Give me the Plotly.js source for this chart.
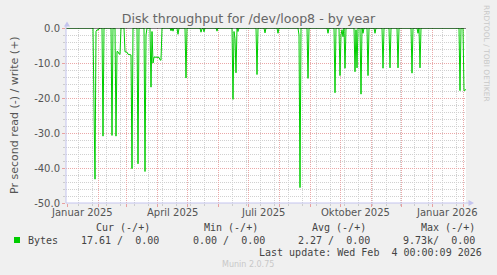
<!DOCTYPE html>
<html>
<head>
<meta charset="utf-8">
<script src="https://cdn.plot.ly/plotly-3.0.1.min.js"></script>
<style>
html,body{margin:0;padding:0;background:#f0f0f0;}
#chart{width:497px;height:275px;}
</style>
</head>
<body>
<div id="chart"></div>
<script>
// ---- data (read series, shown as negative) ----
const readDates = [
"2024-12-31","2025-01-27","2025-01-28","2025-01-29","2025-01-30","2025-01-31","2025-02-01","2025-02-03",
"2025-02-05","2025-02-06","2025-02-07","2025-02-14","2025-02-15","2025-02-16","2025-02-18","2025-02-19",
"2025-02-20","2025-02-21","2025-02-22","2025-02-23","2025-02-24","2025-02-27","2025-02-28","2025-03-01",
"2025-03-02","2025-03-03","2025-03-04","2025-03-05","2025-03-06","2025-03-07","2025-03-08","2025-03-12",
"2025-03-13","2025-03-14","2025-03-19","2025-03-20","2025-03-21","2025-03-22","2025-03-25","2025-03-26",
"2025-03-27","2025-03-28","2025-03-29","2025-04-03","2025-04-04","2025-04-05","2025-04-06",
"2025-04-14","2025-04-15","2025-04-16","2025-04-17","2025-04-18","2025-04-21","2025-04-22","2025-04-23",
"2025-04-29","2025-04-30","2025-05-01","2025-05-14","2025-05-15","2025-05-16","2025-05-17","2025-05-18",
"2025-05-19","2025-05-30","2025-05-31","2025-06-01","2025-06-15","2025-06-16","2025-06-17","2025-06-18",
"2025-06-19","2025-06-20","2025-06-21","2025-06-22","2025-07-09","2025-07-10","2025-07-11","2025-07-17",
"2025-07-18","2025-07-19","2025-07-30","2025-07-31","2025-08-01","2025-08-20","2025-08-21","2025-08-22",
"2025-08-23","2025-08-29","2025-08-30","2025-08-31","2025-09-18","2025-09-19","2025-09-20","2025-09-25",
"2025-09-26","2025-09-27","2025-09-30","2025-10-01","2025-10-02","2025-10-03","2025-10-04","2025-10-05",
"2025-10-06","2025-10-07","2025-10-15","2025-10-16","2025-10-17","2025-10-18","2025-10-19","2025-10-21",
"2025-10-22","2025-10-23","2025-10-24","2025-10-25","2025-10-28","2025-10-29","2025-10-30","2025-11-04",
"2025-11-05","2025-11-06","2025-11-12","2025-11-13","2025-11-14","2025-11-19","2025-11-20","2025-11-21",
"2025-11-27","2025-11-28","2025-11-29","2025-12-11","2025-12-12","2025-12-13","2025-12-17","2025-12-18",
"2025-12-19","2025-12-20","2025-12-21","2026-01-28","2026-01-29","2026-01-30","2026-02-01","2026-02-02",
"2026-02-03","2026-02-04"
];
const readValues = [
0,0,-22.6,-43.2,-1.0,-0.5,-0.6,0,
0,-30.9,0,0,-30.7,0,0,-30.9,
-6.7,-6.8,-7.4,-7.5,0,0,-6.8,-6.8,
-6.9,-7.5,-7.6,-7.6,-7.7,-40.2,0,0,
-38.8,0,0,-41.0,-2.0,0,0,-16.9,
-1.0,-10.0,-8.3,-8.4,-9.1,-9.2,0,
0,-0.8,0,-0.9,0,0,-1.8,0,
0,-14.3,0,0,-1.2,-0.2,0,-1.1,
0,0,-0.9,0,0,-20.4,-1.0,-3.0,
-12.8,0,-1.0,0,0,-13.3,0,0,
-1.4,0,0,-1.5,0,0,-2.0,-45.6,
0,0,-14.4,0,0,-1.5,0,0,
-18.5,0,0,-13.6,-2.0,-0.5,-2.5,0,
-11.5,0,0,-12.5,-0.5,-11.4,0,0,
-18.9,0,-1.5,0,0,-13.6,0,0,
-1.5,0,0,-11.5,0,0,-11.4,0,
0,-11.4,0,0,-12.9,0,0,-1.5,
0,-11.4,0,0,-17.9,0,0,-17.9,
-17.7,-17.61
];

// ---- axis labels ----
const xLabelDates = ["2025-01-16","2025-04-16","2025-07-16","2025-10-16","2026-01-16"];
const xLabelText  = ["Januar 2025","April 2025","Juli 2025","Oktober 2025","Januar 2026"];
const yTickVals = [-50,-40,-30,-20,-10,0];
const yTickText = ["-50.0","-40.0","-30.0","-20.0","-10.0","0.0"];

// ---- legend text ----
const legendHeaders = ["Cur (-/+)","Min (-/+)","Avg (-/+)","Max (-/+)"];
const legendSeries = "Bytes";
const legendStats = ["17.61 /  0.00","0.00 /  0.00","2.27 /  0.00","9.73k/  0.00"];
const lastUpdate = "Last update: Wed Feb  4 00:00:09 2026";
const footer = "Munin 2.0.75";

// ---- geometry helpers (pixel -> paper), plot area 66..466 x 28..203 ----
const L=66, R=466, T=28, B=203;
const px = x => (x-L)/(R-L);
const py = y => (B-y)/(B-T);
const nb = s => s.replace(/ /g,"\u00a0");

const GREEN="#00cc00";
const mono = {family:"DejaVu Sans Mono", size:10, color:"#444"};
const sans = {family:"DejaVu Sans", size:10, color:"#555"};

const annotations = [];
xLabelDates.forEach((d,i)=>annotations.push({x:d, xref:"x", y:py(212.5), yref:"paper",
  text:xLabelText[i], showarrow:false, xanchor:"center", yanchor:"middle", font:sans}));
annotations.push({x:px(14), xref:"paper", y:py(115), yref:"paper", text:"Pr second read (-) / write (+)",
  textangle:-90, showarrow:false, xanchor:"center", yanchor:"middle",
  font:{family:"DejaVu Sans", size:11, color:"#555"}});
annotations.push({x:px(487), xref:"paper", y:py(53), yref:"paper", text:"RRDTOOL / TOBI OETIKER",
  textangle:90, showarrow:false, xanchor:"center", yanchor:"middle",
  font:{family:"DejaVu Sans", size:7.5, color:"#c8c8c8"}});
const headRight=[152,260,368,477];
legendHeaders.forEach((t,i)=>annotations.push({x:px(headRight[i]), xref:"paper", y:py(227.5), yref:"paper",
  text:nb(t), showarrow:false, xanchor:"right", yanchor:"middle", font:mono}));
annotations.push({x:px(26), xref:"paper", y:py(240), yref:"paper", text:legendSeries,
  showarrow:false, xanchor:"left", yanchor:"middle", font:mono});
const statRight=[161,267,372,477];
legendStats.forEach((t,i)=>annotations.push({x:px(statRight[i]), xref:"paper", y:py(240), yref:"paper",
  text:nb(t), showarrow:false, xanchor:"right", yanchor:"middle", font:mono}));
annotations.push({x:px(484), xref:"paper", y:py(252), yref:"paper", text:nb(lastUpdate),
  showarrow:false, xanchor:"right", yanchor:"middle", font:mono});
annotations.push({x:px(248), xref:"paper", y:py(264), yref:"paper", text:footer,
  showarrow:false, xanchor:"center", yanchor:"middle",
  font:{family:"DejaVu Sans", size:8, color:"#c8c8c8"}});

const AXC="#c4c4ee";
const shapes = [
  {type:"line", xref:"paper", yref:"y", x0:0, x1:1, y0:0, y1:0, line:{color:"#000", width:1}, layer:"above"},
  {type:"line", xref:"paper", yref:"paper", x0:0, x1:px(469), y0:0, y1:0, line:{color:AXC, width:1}, layer:"above"},
  {type:"line", xref:"paper", yref:"paper", x0:0, x1:0, y0:0, y1:py(25), line:{color:AXC, width:1}, layer:"above"},
  {type:"path", xref:"paper", yref:"paper", path:`M${px(67)},${py(21.5)} L${px(64)},${py(26.5)} L${px(70)},${py(26.5)} Z`,
   fillcolor:AXC, line:{width:0}, layer:"above"},
  {type:"path", xref:"paper", yref:"paper", path:`M${px(474)},${py(203)} L${px(468.5)},${py(200)} L${px(468.5)},${py(206)} Z`,
   fillcolor:AXC, line:{width:0}, layer:"above"},
  {type:"rect", xref:"paper", yref:"paper", x0:px(14), x1:px(20), y0:py(243), y1:py(237),
   fillcolor:GREEN, line:{width:0}}
];

const trace = {x:readDates, y:readValues, type:"scatter", mode:"lines",
  line:{color:GREEN, width:1}, hoverinfo:"skip"};

const layout = {
  width:497, height:275,
  paper_bgcolor:"#f0f0f0", plot_bgcolor:"#ffffff",
  margin:{l:L, r:497-R, t:T, b:275-B, pad:0},
  showlegend:false,
  title:{text:"Disk throughput for /dev/loop8 - by year", x:0.5, xref:"container", xanchor:"center",
    y:1-19/275, yref:"container", yanchor:"middle",
    font:{family:"DejaVu Sans", size:12.6, color:"#666666"}},
  xaxis:{type:"date", range:["2024-12-31","2026-02-04"], showticklabels:false,
    tick0:"2025-01-01", dtick:"M1", ticks:"outside", ticklen:3, tickcolor:"#e8a0a0",
    showgrid:true, gridcolor:"#eaa8a8", griddash:"1px,1px", gridwidth:1,
    minor:{tick0:"2025-01-12", dtick:14*86400000, showgrid:true, gridcolor:"#d0d0d0",
      griddash:"1px,1px", ticks:"outside", ticklen:2, tickcolor:"#cccccc"},
    showline:false, zeroline:false, fixedrange:true},
  yaxis:{range:[-50,0], tickvals:yTickVals, ticktext:yTickText, tickfont:sans,
    ticks:"outside", ticklen:3, tickcolor:"#e8a0a0",
    showgrid:true, gridcolor:"#eaa8a8", griddash:"1px,1px",
    minor:{dtick:2, showgrid:true, gridcolor:"#d0d0d0", griddash:"1px,1px", ticks:"outside", ticklen:2, tickcolor:"#cccccc"},
    showline:false, zeroline:false, fixedrange:true},
  annotations:annotations,
  shapes:shapes
};

Plotly.newPlot("chart", [trace], layout, {staticPlot:true, displayModeBar:false});
</script>
</body>
</html>
